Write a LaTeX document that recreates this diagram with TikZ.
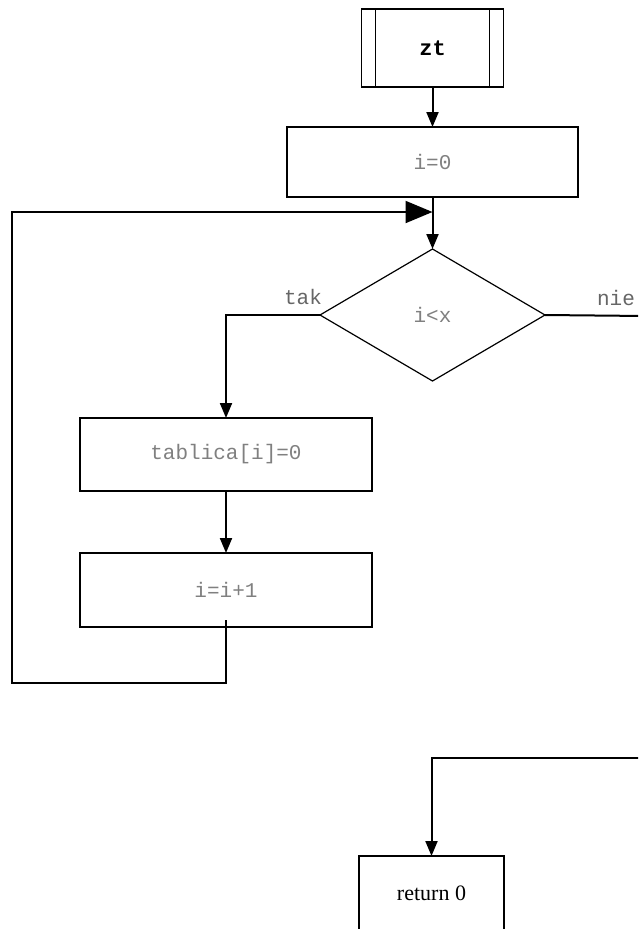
\documentclass[tikz,border=0pt]{standalone}
\usepackage{fontspec}
\setmainfont{Liberation Serif}
\setmonofont{Liberation Mono}
\usetikzlibrary{shapes.geometric,arrows.meta}

\begin{document}
\begin{tikzpicture}[x=1pt,y=-1pt,
	box/.style={draw,rectangle,line width=1.5pt,inner sep=0,outer sep=0,text=black!50,font=\fontsize{21}{25}\ttfamily},
	cond/.style={draw,diamond,line width=1.2pt,inner sep=0,outer sep=0,text=black!50,font=\fontsize{21}{25}\ttfamily},
	lbl/.style={text=black!60,font=\fontsize{21}{25}\ttfamily,inner sep=0},
	flow/.style={line width=2pt},
	arr/.style={flow,-{Triangle[length=15pt,width=12pt]}},
	bigarr/.style={flow,-{Triangle[length=27pt,width=22pt]}}]
	\useasboundingbox (0,0) rectangle (638,929);
	\clip (0,0) rectangle (638,929);
	\node[box,minimum width=142pt,minimum height=78pt,text=black,font=\fontsize{22}{26}\ttfamily\bfseries] (zt) at (432.5,48) {zt};
	\draw[line width=1.5pt] ([xshift=14pt]zt.north west) -- ([xshift=14pt]zt.south west);
	\draw[line width=1.5pt] ([xshift=-14pt]zt.north east) -- ([xshift=-14pt]zt.south east);
	\node[box,minimum width=291pt,minimum height=70pt] (i0) at (432.5,162) {i=0};
	\node[cond,minimum width=225pt,minimum height=132pt] (test) at (432.5,315) {i<x};
	\node[lbl] (tak) at (303,297) {tak};
	\node[lbl] (nie) at (616,298) {nie};
	\node[box,minimum width=292pt,minimum height=73pt] (tab) at (226,454.5) {tablica[i]=0};
	\node[box,minimum width=292pt,minimum height=74pt] (inc) at (226,590) {i=i+1};
	\node[box,minimum width=145pt,minimum height=74pt,text=black,font=\fontsize{22}{26}\rmfamily] (ret) at (431.5,893) {return 0};
	\coordinate (join) at (432.5,212);
	\coordinate (nieout) at (645,316);
	\coordinate (niein) at (645,758);
	% polaczenia
	\draw[arr] (zt) -- (i0);
	\draw[arr] (i0) -- (test);
	\draw[arr] (test.west) -| (tab.north);
	\draw[arr] (tab) -- (inc);
	\draw[bigarr] ([yshift=7pt]inc.south) |- (12,683) |- (join);
	\draw[flow] (test.east) -- (nieout);
	\draw[arr] (niein) -| (ret.north);
\end{tikzpicture}
\end{document}
